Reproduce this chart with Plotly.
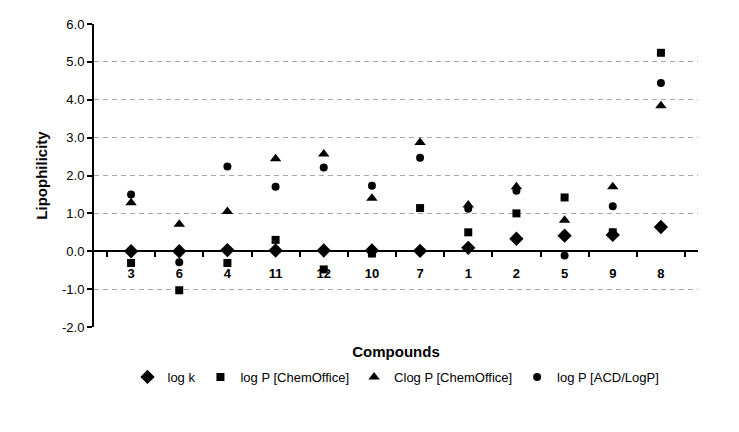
import plotly.graph_objects as go

compounds = ["3", "6", "4", "11", "12", "10", "7", "1", "2", "5", "9", "8"]
log_k = [0.00, 0.00, 0.03, 0.02, 0.02, 0.02, 0.01, 0.09, 0.33, 0.41, 0.43, 0.64]
logp_chemoffice = [-0.31, -1.03, -0.31, 0.30, -0.48, -0.06, 1.14, 0.50, 1.00, 1.42, 0.50, 5.24]
clogp_chemoffice = [1.28, 0.71, 1.05, 2.44, 2.57, 1.40, 2.87, 1.22, 1.70, 0.82, 1.70, 3.84]
logp_acd = [1.50, -0.29, 2.24, 1.70, 2.21, 1.73, 2.47, 1.12, 1.60, -0.11, 1.19, 4.44]

y_tickvals = [-2, -1, 0, 1, 2, 3, 4, 5, 6]
y_ticktext = ["-2.0", "-1.0", "0.0", "1.0", "2.0", "3.0", "4.0", "5.0", "6.0"]

series = [
    ("log k", log_k, "diamond", 11),
    ("log P [ChemOffice]", logp_chemoffice, "square", 8),
    ("Clog P [ChemOffice]", clogp_chemoffice, "triangle-up", 10),
    ("log P [ACD/LogP]", logp_acd, "circle", 8),
]

fig = go.Figure()
for name, vals, sym, sz in series:
    fig.add_trace(go.Scatter(
        x=compounds, y=vals, mode="markers", name=name,
        marker=dict(symbol=sym, size=sz, color="black"),
    ))

font = "Liberation Sans, Arial, sans-serif"
fig.update_layout(
    width=739, height=432,
    margin=dict(l=86, r=49, t=16, b=113),
    paper_bgcolor="white", plot_bgcolor="white",
    font=dict(family=font, size=13, color="black"),
    legend=dict(orientation="h", x=0.5, xanchor="center", y=-0.165, yanchor="middle",
                font=dict(size=13), itemwidth=30, tracegroupgap=0),
    xaxis=dict(
        type="category", categoryorder="array", categoryarray=compounds,
        anchor="free", position=0.25,
        showline=True, linecolor="black", linewidth=2,
        ticks="outside", ticklen=5, tickwidth=2, tickcolor="black",
        tickson="boundaries", showgrid=False,
        ticklabelstandoff=10,
        tickfont=dict(size=13, family=font, weight="bold"),
        title=dict(text="<b>Compounds</b>", font=dict(size=15), standoff=66),
        automargin=False,
    ),
    yaxis=dict(
        range=[-2, 6], tickvals=y_tickvals, ticktext=y_ticktext,
        showline=True, linecolor="black", linewidth=2,
        ticks="outside", ticklen=5, tickwidth=2, tickcolor="black",
        showgrid=True, gridcolor="#a8a8a8", griddash="5px,4px", gridwidth=1,
        zeroline=False,
        tickfont=dict(size=13),
        title=dict(text="<b>Lipophilicity</b>", font=dict(size=15), standoff=11),
        automargin=False,
    ),
)

fig.write_html("out.html")
